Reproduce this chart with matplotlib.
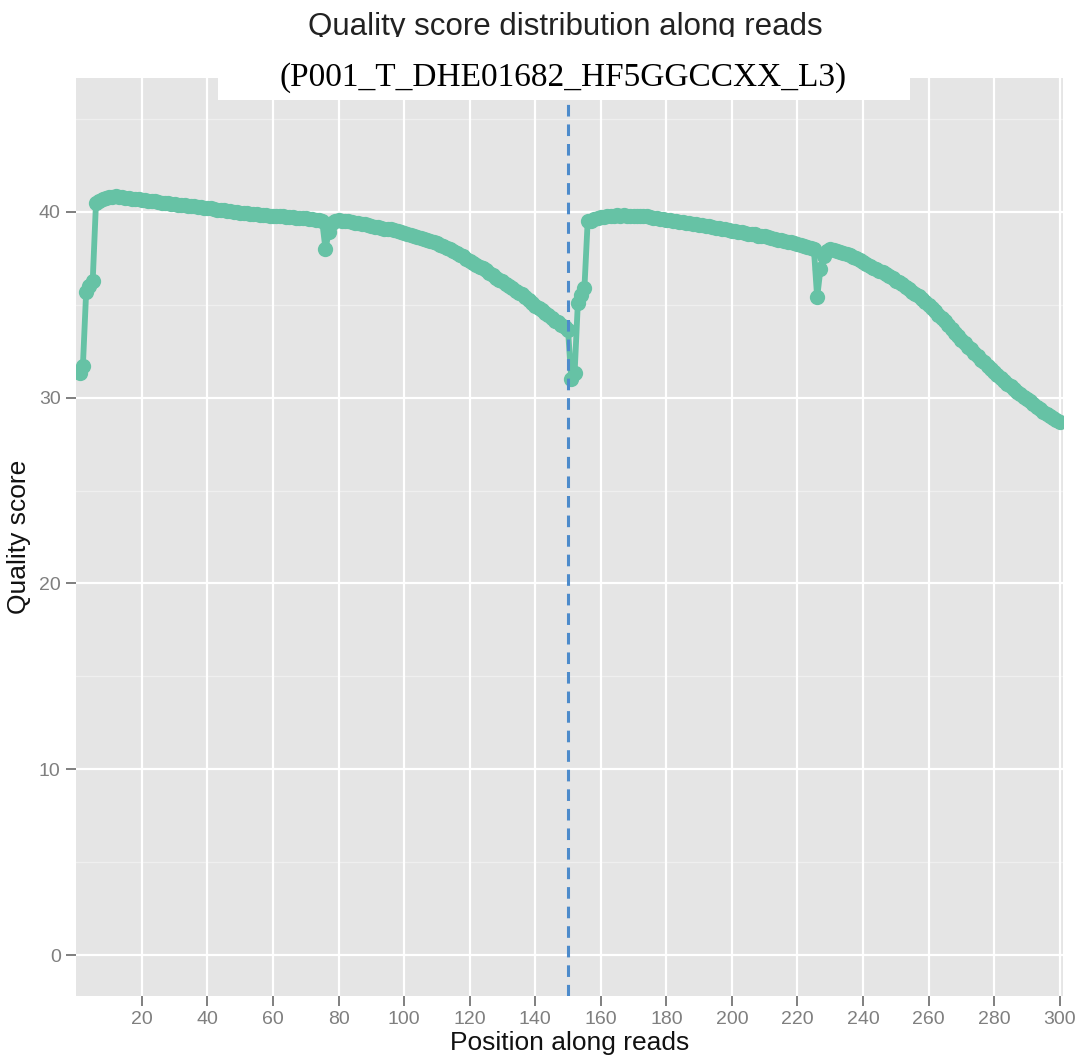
import matplotlib
matplotlib.use("Agg")
import matplotlib.pyplot as plt
import numpy as np
from matplotlib.patches import Rectangle

# mean quality per position, read 1 (positions 1-150)
read1_quality = [
    31.3, 31.7, 35.7, 36.0, 36.3, 40.5, 40.6, 40.7, 40.75, 40.8,
    40.8, 40.85, 40.8, 40.8, 40.75, 40.75, 40.7, 40.7, 40.7, 40.65,
    40.65, 40.6, 40.6, 40.6, 40.55, 40.5, 40.45, 40.45, 40.4, 40.4,
    40.38, 40.35, 40.35, 40.32, 40.3, 40.3, 40.28, 40.25, 40.22, 40.2,
    40.18, 40.15, 40.12, 40.1, 40.1, 40.05, 40.02, 40.0, 39.98, 39.95,
    39.95, 39.92, 39.9, 39.9, 39.88, 39.85, 39.85, 39.82, 39.8, 39.8,
    39.78, 39.75, 39.75, 39.72, 39.7, 39.7, 39.68, 39.65, 39.65, 39.65,
    39.6, 39.6, 39.58, 39.55, 39.5, 38.0, 38.9, 39.4, 39.5, 39.55,
    39.52, 39.5, 39.48, 39.45, 39.42, 39.4, 39.35, 39.32, 39.28, 39.25,
    39.2, 39.18, 39.15, 39.1, 39.08, 39.05, 39.0, 38.95, 38.9, 38.85,
    38.8, 38.75, 38.7, 38.65, 38.6, 38.55, 38.48, 38.42, 38.35, 38.3,
    38.22, 38.15, 38.05, 37.98, 37.9, 37.8, 37.7, 37.6, 37.45, 37.35,
    37.25, 37.15, 37.05, 36.95, 36.85, 36.7, 36.6, 36.45, 36.35, 36.25,
    36.1, 36.0, 35.9, 35.75, 35.65, 35.55, 35.4, 35.25, 35.1, 34.95,
    34.8, 34.7, 34.55, 34.45, 34.3, 34.15, 34.05, 33.9, 33.8, 33.65,
]

# mean quality per position, read 2 (positions 151-300)
read2_quality = [
    31.0, 31.3, 35.1, 35.5, 35.9, 39.5, 39.5, 39.6, 39.65, 39.7,
    39.72, 39.75, 39.8, 39.8, 39.82, 39.8, 39.82, 39.8, 39.8, 39.8,
    39.78, 39.8, 39.75, 39.75, 39.7, 39.68, 39.65, 39.6, 39.6, 39.58,
    39.55, 39.52, 39.5, 39.45, 39.45, 39.42, 39.4, 39.35, 39.32, 39.3,
    39.3, 39.25, 39.22, 39.2, 39.15, 39.12, 39.08, 39.05, 39.0, 38.98,
    38.95, 38.92, 38.9, 38.85, 38.82, 38.8, 38.78, 38.72, 38.7, 38.68,
    38.62, 38.6, 38.55, 38.5, 38.48, 38.42, 38.4, 38.35, 38.3, 38.25,
    38.2, 38.15, 38.1, 38.05, 38.0, 35.4, 36.9, 37.6, 37.9, 38.0,
    37.95, 37.9, 37.85, 37.8, 37.72, 37.65, 37.58, 37.5, 37.4, 37.3,
    37.2, 37.1, 37.0, 36.9, 36.82, 36.75, 36.65, 36.55, 36.45, 36.3,
    36.2, 36.1, 35.95, 35.85, 35.7, 35.6, 35.45, 35.3, 35.15, 35.0,
    34.8, 34.65, 34.45, 34.3, 34.1, 33.9, 33.7, 33.5, 33.3, 33.1,
    32.95, 32.75, 32.6, 32.4, 32.25, 32.05, 31.9, 31.7, 31.55, 31.4,
    31.2, 31.05, 30.9, 30.75, 30.6, 30.45, 30.3, 30.2, 30.05, 29.9,
    29.8, 29.65, 29.5, 29.4, 29.25, 29.1, 29.0, 28.9, 28.8, 28.7,
]

quality = read1_quality + read2_quality
positions = np.arange(1, len(quality) + 1)
read_boundary = 150

x_ticks = list(range(20, 301, 20))
y_ticks = [0, 10, 20, 30, 40]
y_minor = [5, 15, 25, 35, 45]

title = "Quality score distribution along reads"
subtitle = "(P001_T_DHE01682_HF5GGCCXX_L3)"

plt.rcParams['font.family'] = ['Liberation Sans', 'DejaVu Sans']

W, H = 1083, 1059
fig = plt.figure(figsize=(W / 100, H / 100), dpi=100)
left, right, top, bottom = 76, 1063, 78, 996
ax = fig.add_axes([left / W, 1 - bottom / H, (right - left) / W, (bottom - top) / H])
ax.set_facecolor('#e5e5e5')

# grid like ggplot
for y in y_minor:
    ax.axhline(y, color='#efefef', lw=0.9, zorder=1)
for y in y_ticks:
    ax.axhline(y, color='white', lw=1.6, zorder=1)
for x in x_ticks:
    ax.axvline(x, color='white', lw=1.6, zorder=1)

ax.plot(positions, quality, color='#66c2a5', lw=4.2, marker='o', ms=11,
        mew=0, zorder=3)
ax.axvline(read_boundary, color='#4d8bcb', lw=2.2, linestyle=(0, (3.8, 2.6)), zorder=4)

ax.set_xlim(-0.1, 301)
ax.set_ylim(-2.2, 47.2)
ax.set_xticks(x_ticks)
ax.set_yticks(y_ticks)
for s in ax.spines.values():
    s.set_visible(False)
ax.tick_params(length=7, width=1.4, color='#7f7f7f', labelcolor='#7f7f7f',
               labelsize=14, pad=4)

ax.set_xlabel("Position along reads", fontsize=19, color='#111111', labelpad=2)
ax.set_ylabel("Quality score", fontsize=19, color='#111111', labelpad=6)

# title, partly covered by the white label box
fig.text(565 / W, 1 - 35 / H, title, ha='center', va='baseline', fontsize=22.5,
         color='#222222', zorder=1)
fig.patches.append(Rectangle((218 / W, 1 - 100 / H), 692 / W, 63 / H,
                             transform=fig.transFigure, facecolor='white',
                             edgecolor='none', zorder=5))
fig.text(563 / W, 1 - 78 / H, subtitle, ha='center', va='center', fontsize=24,
         family='Liberation Serif', color='black', zorder=6)

fig.savefig("out.png", dpi=100)
